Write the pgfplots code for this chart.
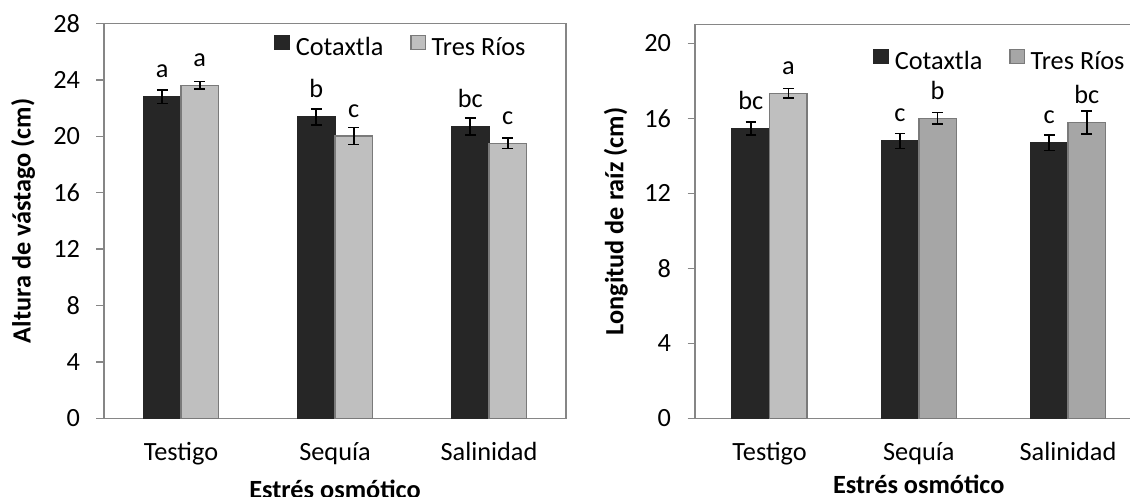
\documentclass[border=0pt]{standalone}
\usepackage{fontspec}
\setmainfont{Carlito}
\usepackage{pgfplots}
\pgfplotsset{compat=1.18}
\usepackage{pgfplotstable}

\definecolor{dark}{HTML}{262626}
\definecolor{light}{HTML}{BFBFBF}
\definecolor{mid}{HTML}{A6A6A6}
\definecolor{framec}{HTML}{868686}
\definecolor{bord}{HTML}{7A7A7A}

\pgfplotstableread{
x y e lab
0 22.80 0.47 a
1 21.37 0.58 b
2 20.70 0.59 bc
}\leftCot
\pgfplotstableread{
x y e lab
0 23.62 0.27 a
1 20.02 0.61 c
2 19.50 0.37 c
}\leftTR
\pgfplotstableread{
x y e lab
0 15.46 0.34 bc
1 14.79 0.40 c
2 14.70 0.42 c
}\rightCot
\pgfplotstableread{
x y e lab
1 16.00 0.31 b
2 15.77 0.62 bc
}\rightTR
\pgfplotstableread{
x y e lab
0 17.33 0.26 a
}\rightTRa

\newcommand{\bigfont}{\fontsize{26.3}{31}\selectfont}

\pgfplotsset{
  panel/.style={
    scale only axis, anchor=south west,
    xmin=-0.5, xmax=2.5, ymin=0,
    xtick={0,1,2}, xticklabels={Testigo,Sequía,Salinidad},
    axis line style={framec, line width=1.5pt},
    ytick style={framec, line width=1.5pt},
    x tick style={draw=none},
    tick align=outside, ytick pos=left,
    major tick length=7.5pt,
    font=\bigfont,
    /pgf/number format/assume math mode=true,
    yticklabel style={font=\bigfont, xshift=-13pt},
    xticklabel style={font=\bigfont, anchor=base, yshift=-35pt},
    xlabel={\bfseries Estrés osmótico},
    legend columns=2,
    legend style={draw=none, fill=none, inner sep=0pt, anchor=west,
      nodes={inner sep=0pt, font=\bigfont},
      /tikz/every odd column/.append style={column sep=5.7pt},
      /tikz/every even column/.append style={column sep=27pt}},
    clip=false,
  },
  sq/.style={legend image code/.code={\draw[##1, line width=1.2pt] (0.6pt,-2.6pt) rectangle (15pt,11.8pt);}},
  bars/.style={ybar, bar width=37.5pt, bar shift=0pt, line width=1.5pt,
    nodes near coords, point meta=explicit symbolic,
    every node near coord/.append style={anchor=base, yshift=19pt, inner sep=0pt, font=\bigfont, black},
    error bars/y dir=both, error bars/y explicit,
    error bars/error mark=-,
    error bars/error bar style={black, line width=1.6pt},
    error bars/error mark options={rotate=90, black, mark size=5.3pt, line width=1.6pt}},
}

\begin{document}
\begin{tikzpicture}
\begin{axis}[panel, at={(104pt,77.7pt)}, width=462pt, height=394.8pt,
  ymax=28, ytick={0,4,...,28},
  ylabel={\bfseries Altura de vástago (cm)},
  ylabel style={at={(axis description cs:-0.159,0.5)}, anchor=base, font=\bigfont},
  xlabel style={at={(axis description cs:0.5,0)}, anchor=base, yshift=-80pt, font=\bigfont},
  legend style={at={(axis description cs:0.3686,0.943)}}]
\addplot[bars, fill=dark, draw=dark, sq]
  table[x expr=\thisrow{x}-0.1218, y=y, y error=e, meta=lab] {\leftCot};
\addlegendentry{Cotaxtla}
\addplot[bars, fill=light, draw=bord, sq]
  table[x expr=\thisrow{x}+0.1218, y=y, y error=e, meta=lab] {\leftTR};
\addlegendentry{Tres Ríos}
\end{axis}

\begin{axis}[panel, at={(695pt,77.7pt)}, width=447.6pt, height=393.75pt,
  ymax=21, ytick={0,4,...,20},
  ylabel={\bfseries Longitud de raíz (cm)},
  ylabel style={at={(axis description cs:-0.16,0.5)}, anchor=base, font=\bigfont},
  xlabel style={at={(axis description cs:0.5,0)}, anchor=base, yshift=-75.5pt, font=\bigfont},
  legend style={at={(axis description cs:0.3983,0.9105)}}]
\addplot[bars, fill=dark, draw=dark, sq]
  table[x expr=\thisrow{x}-0.1257, y=y, y error=e, meta=lab] {\rightCot};
\addlegendentry{Cotaxtla}
\addplot[bars, fill=mid, draw=bord, sq]
  table[x expr=\thisrow{x}+0.1257, y=y, y error=e, meta=lab] {\rightTR};
\addlegendentry{Tres Ríos}
\addplot[bars, fill=light, draw=bord, forget plot]
  table[x expr=\thisrow{x}+0.1257, y=y, y error=e, meta=lab] {\rightTRa};
\end{axis}
\pgfresetboundingbox
\path[use as bounding box] (0,0) rectangle (1130pt,496pt);
\end{tikzpicture}
\end{document}
